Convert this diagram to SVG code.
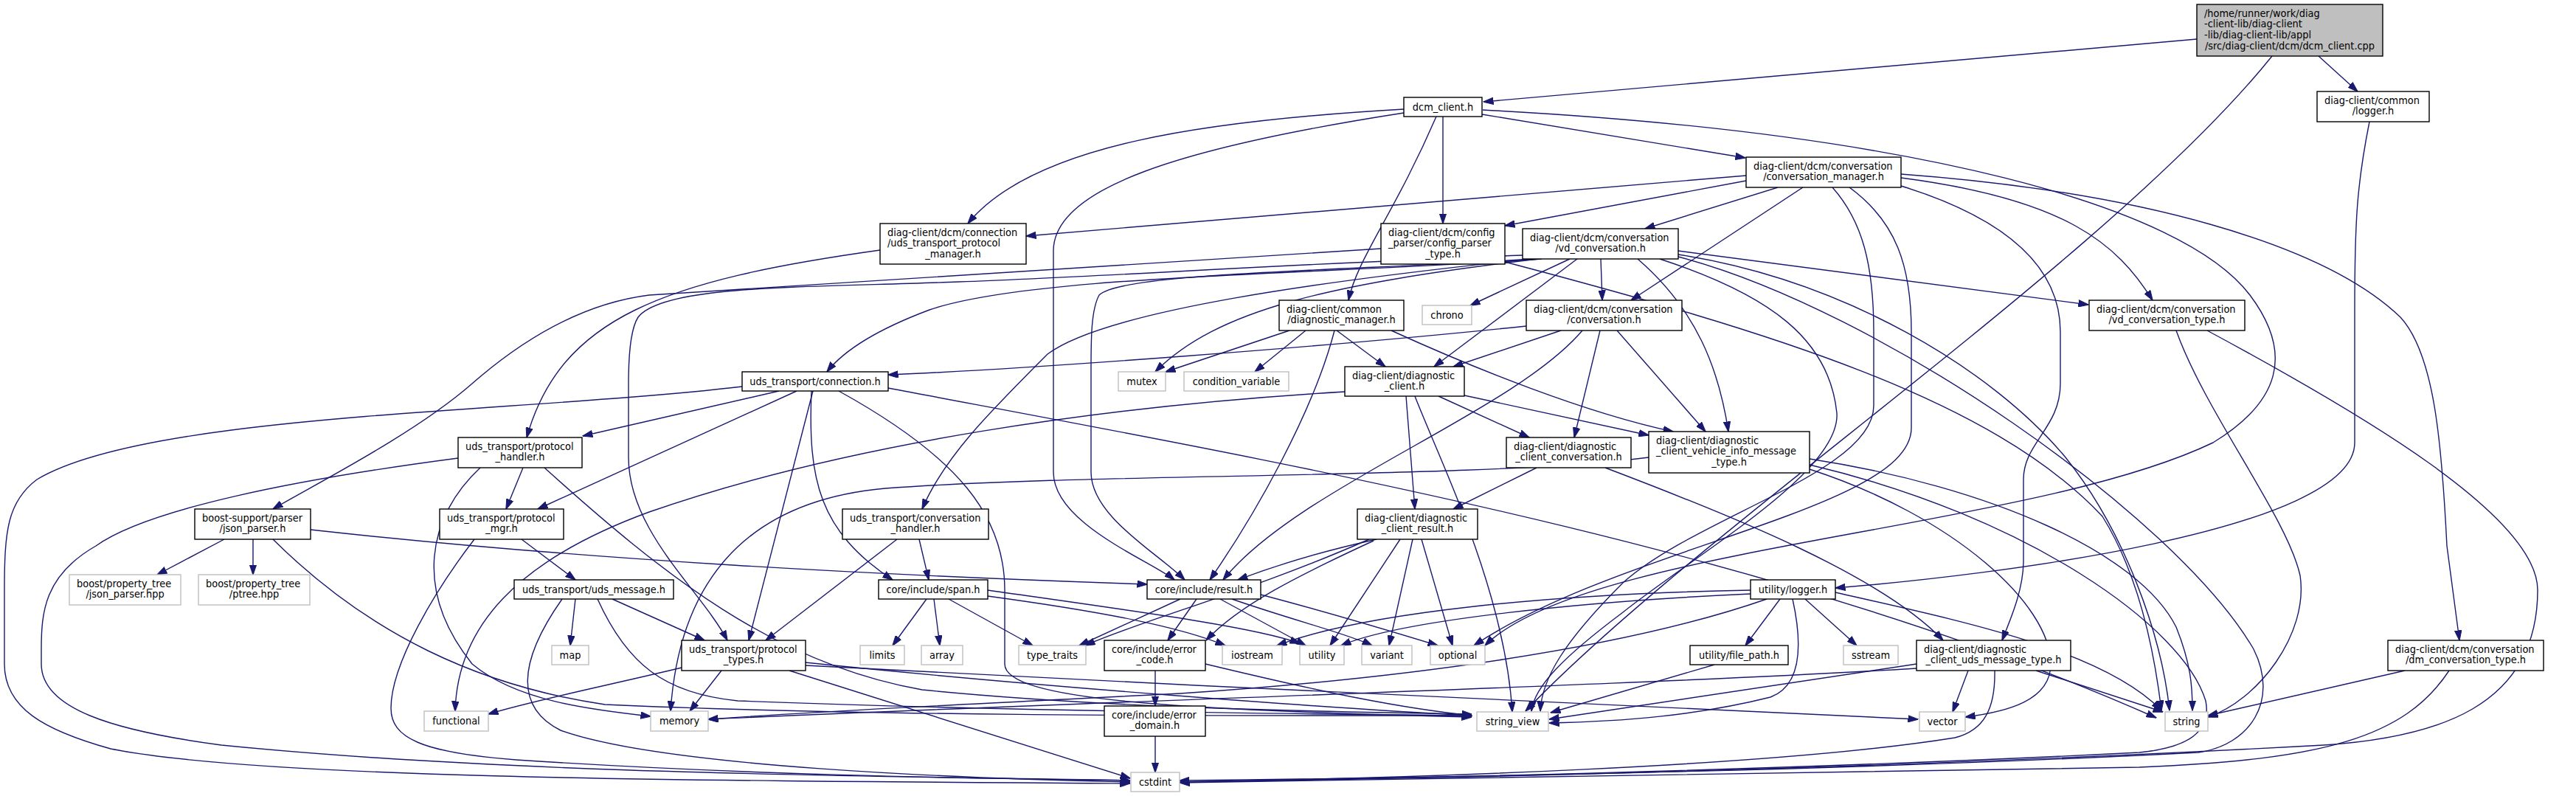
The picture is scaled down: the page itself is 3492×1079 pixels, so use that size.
<svg xmlns="http://www.w3.org/2000/svg" width="3492" height="1079" viewBox="0 0 3492 1079">
<style>
.b{fill:#fff;stroke:#000;stroke-width:1.4}
.x{fill:#fff;stroke:#bfbfbf;stroke-width:1.4}
.r{fill:#bfbfbf;stroke:#000;stroke-width:1.4}
text{font-family:'DejaVu Sans Condensed','DejaVu Sans',sans-serif;font-stretch:condensed;font-size:14.4px;fill:#000}
.m{text-anchor:middle}
#edges path{fill:none;stroke:#191970;stroke-width:1.4;marker-end:url(#ah)}
</style>
<defs>
<marker id="ah" markerUnits="userSpaceOnUse" viewBox="0 0 14 10" refX="13.5" refY="5" markerWidth="14" markerHeight="10" orient="auto"><path d="M0,0.3 L14,5 L0,9.7 z" fill="#191970" stroke="#191970" stroke-width="1"/></marker>
</defs>
<rect width="3492" height="1079" fill="#fff"/>
<g id="edges">
<path d="M2978,53 L2011,138"/>
<path d="M3143,76 L3196,124"/>
<path d="M3080,76 C2860,350 2300,720 2068,964"/>
<path d="M1903,148 C1640,163 1400,195 1312,303"/>
<path d="M1903,153 C1600,200 1428,255 1428,340 L1428,640 C1428,710 1560,760 1592,786"/>
<path d="M1956,158 L1956,303"/>
<path d="M1947,158 C1890,290 1840,350 1828,407"/>
<path d="M2009,155 L2366,214"/>
<path d="M2010,149 C2600,180 2960,280 3050,400 C3110,480 3090,545 3000,600 C2750,720 2150,740 2013,875"/>
<path d="M3212,165 C3195,250 3192,300 3192,420 L3192,600 C3192,720 2700,780 2488,797"/>
<path d="M2367,238 L1391,320"/>
<path d="M2367,245 L2040,306"/>
<path d="M2410,254 L2230,310"/>
<path d="M2444,254 L2211,407"/>
<path d="M2577,241 C2800,270 2870,330 2918,407"/>
<path d="M2577,236 C2900,260 3150,330 3254,430 C3300,480 3310,600 3317,740 L3334,868"/>
<path d="M2484,254 C2525,300 2540,360 2540,450 L2540,550 C2540,640 2300,700 2200,790 C2120,870 2090,920 2088,964"/>
<path d="M2507,254 C2570,300 2591,360 2591,450 L2591,580 C2591,690 2200,740 1998,875"/>
<path d="M2577,252 C2700,290 2793,350 2793,450 L2793,520 C2793,580 2743,600 2743,650 L2743,760 C2743,800 2725,840 2714,868"/>
<path d="M2128,351 L1993,414"/>
<path d="M2138,351 L1944,497"/>
<path d="M2170,351 L2172,407"/>
<path d="M2220,351 C2300,420 2330,500 2343,585"/>
<path d="M2275,340 L2831,413"/>
<path d="M2090,351 C1800,372 1400,372 1260,420 C1180,450 1140,480 1121,504"/>
<path d="M2085,351 C1800,385 1650,420 1566,504"/>
<path d="M2080,351 C1800,368 1520,370 1490,400 C1479,420 1479,460 1479,500 L1479,640 C1479,700 1570,750 1606,786"/>
<path d="M2075,351 C1800,380 1500,420 1420,480 C1340,560 1280,620 1250,690"/>
<path d="M2064,346 C1700,360 1500,375 1300,382 C1100,390 900,385 865,430 C852,450 852,500 852,520 L852,620 C852,720 950,800 986,868"/>
<path d="M2275,345 C2500,380 2700,500 2800,620 C2880,720 2930,860 2941,963"/>
<path d="M2250,351 C2400,400 2480,460 2490,560 C2495,640 2300,750 2200,830 C2120,890 2080,930 2076,964"/>
<path d="M2275,348 C2550,420 2950,700 3055,880 C3090,950 3050,1010 2980,1020 C2500,1045 1900,1055 1599,1058"/>
<path d="M2235,620 C2000,650 1500,640 1200,662 C1000,680 920,800 909,964"/>
<path d="M2453,622 C2700,660 2900,750 2950,850 C2970,900 2972,930 2972,963"/>
<path d="M2453,636 C2650,700 2780,820 2780,900 C2780,950 2720,965 2664,972"/>
<path d="M2453,630 C2750,700 2960,850 2990,950 C3000,1000 2950,1015 2900,1020 C2400,1045 1900,1055 1599,1060"/>
<path d="M2116,448 L1970,497"/>
<path d="M2069,442 C1800,470 1400,500 1204,508"/>
<path d="M2169,448 L2134,593"/>
<path d="M2192,448 L2312,585"/>
<path d="M2145,448 C2050,560 1760,660 1658,786"/>
<path d="M1812,448 L1878,497"/>
<path d="M1748,448 L1580,504"/>
<path d="M1770,448 L1701,504"/>
<path d="M1809,448 C1780,560 1700,700 1640,786"/>
<path d="M1886,448 C2000,500 2150,560 2268,585"/>
<path d="M1906,537 L1918,690"/>
<path d="M1918,537 C1950,620 2040,800 2050,965"/>
<path d="M1950,537 L2073,593"/>
<path d="M1985,536 L2235,590"/>
<path d="M1823,531 C1500,550 1150,600 880,694 C700,760 620,850 617,964"/>
<path d="M2083,634 L1970,690"/>
<path d="M2176,634 C2350,700 2550,780 2634,868"/>
<path d="M1866,731 C1780,750 1720,770 1678,786"/>
<path d="M1862,733 C1760,780 1680,820 1635,868"/>
<path d="M1856,731 C1700,800 1550,840 1471,875"/>
<path d="M1898,731 L1803,875"/>
<path d="M1915,731 L1883,875"/>
<path d="M1927,731 L1969,875"/>
<path d="M1872,337 L880,400 C800,410 720,450 640,520 C560,590 420,660 370,690"/>
<path d="M2040,355 C2400,450 2700,540 2850,700 C2900,780 2920,880 2930,963"/>
<path d="M1056,530 L790,591"/>
<path d="M1080,530 L729,690"/>
<path d="M1102,530 L1015,868"/>
<path d="M1100,530 C1095,650 1110,720 1210,786"/>
<path d="M1137,530 C1300,620 1362,700 1362,800 L1362,900 C1362,950 1600,962 1995,972"/>
<path d="M1006,524 C700,560 200,560 50,650 C10,680 6,720 6,800 L6,900 C6,960 60,990 150,1015 C350,1055 900,1058 1532,1062"/>
<path d="M1204,526 C1700,620 2400,740 2923,973"/>
<path d="M1193,339 C900,380 760,430 714,593"/>
<path d="M709,634 L686,690"/>
<path d="M651,634 C580,700 560,800 640,900 C700,950 800,962 882,971"/>
<path d="M621,621 C400,650 200,690 130,740 C60,780 56,830 56,880 L56,900 C56,960 150,990 300,1010 C700,1050 1200,1052 1532,1058"/>
<path d="M738,634 C900,780 1050,900 1250,935 C1500,960 1800,965 1995,968"/>
<path d="M304,731 L213,779"/>
<path d="M343,731 L343,779"/>
<path d="M421,718 C800,760 1200,780 1555,792"/>
<path d="M370,731 C500,860 650,930 820,955 C1200,972 1700,970 1995,970"/>
<path d="M707,731 L780,786"/>
<path d="M643,731 C590,800 530,900 530,960 C530,1000 570,1020 700,1030 C1000,1050 1300,1055 1532,1058"/>
<path d="M1246,731 L1259,786"/>
<path d="M1216,731 L1038,868"/>
<path d="M780,812 L773,875"/>
<path d="M830,812 L955,868"/>
<path d="M762,812 C700,900 700,960 760,990 C900,1040 1300,1055 1532,1060"/>
<path d="M810,812 C850,900 900,940 1000,950 C1400,965 1800,968 1995,970"/>
<path d="M1256,812 L1210,875"/>
<path d="M1266,812 L1274,875"/>
<path d="M1286,812 L1400,875"/>
<path d="M1339,808 C1500,830 1600,850 1661,875"/>
<path d="M1339,800 C1550,830 1700,850 1762,872"/>
<path d="M1600,812 L1463,875"/>
<path d="M1622,812 L1583,868"/>
<path d="M1654,812 L1770,875"/>
<path d="M1670,812 C1750,840 1830,860 1860,875"/>
<path d="M1709,806 C1800,830 1900,860 1949,875"/>
<path d="M2413,812 L2366,875"/>
<path d="M2447,812 L2517,875"/>
<path d="M2430,812 C2445,880 2440,930 2400,945 C2300,970 2200,978 2100,980"/>
<path d="M2373,800 C2100,805 1850,830 1731,875"/>
<path d="M2373,805 C2150,815 1900,840 1818,875"/>
<path d="M2395,812 C2200,880 1900,920 1600,940 C1300,955 1100,965 960,975"/>
<path d="M2488,803 C2650,840 2850,880 2930,963"/>
<path d="M2324,901 L2102,966"/>
<path d="M2668,909 L2647,965"/>
<path d="M2760,909 L2932,965"/>
<path d="M2704,909 C2705,960 2690,990 2650,1000 C2400,1040 1900,1055 1599,1060"/>
<path d="M2598,906 C2200,930 1500,950 960,975"/>
<path d="M2598,900 C2400,930 2200,960 2100,975"/>
<path d="M2950,448 C2990,560 3100,700 3118,780 C3130,860 3060,950 2993,972"/>
<path d="M2992,448 C3200,560 3440,700 3440,800 C3440,960 3300,1000 3150,1010 C2600,1040 2000,1055 1599,1060"/>
<path d="M3260,909 L2993,970"/>
<path d="M3320,909 C3260,1000 3150,1030 2900,1040 C2400,1052 1900,1058 1599,1061"/>
<path d="M978,909 L935,964"/>
<path d="M924,905 C820,930 720,950 662,968"/>
<path d="M1070,909 L1532,1055"/>
<path d="M1092,898 C1400,930 1800,960 1995,970"/>
<path d="M1092,902 C1600,930 2300,960 2600,975"/>
<path d="M1566,909 L1566,957"/>
<path d="M1634,900 C1800,940 1900,960 1995,970"/>
<path d="M1566,998 L1566,1047"/>
</g>
<g id="n1"><rect class="r" x="2978" y="6" width="252" height="70"/><text x="2988" y="22.5">/home/runner/work/diag</text><text x="2988" y="37.3">-client-lib/diag-client</text><text x="2988" y="52.1">-lib/diag-client-lib/appl</text><text class="m" x="3104" y="66.9">/src/diag-client/dcm/dcm_client.cpp</text></g>
<g id="n2"><rect class="b" x="1903" y="132" width="106" height="26"/><text class="m" x="1956" y="149.8">dcm_client.h</text></g>
<g id="n3"><rect class="b" x="3141" y="124" width="152" height="41"/><text x="3151" y="140.5">diag-client/common</text><text class="m" x="3217" y="155.3">/logger.h</text></g>
<g id="n4"><rect class="b" x="2367" y="213" width="210" height="41"/><text x="2377" y="229.5">diag-client/dcm/conversation</text><text class="m" x="2472" y="244.3">/conversation_manager.h</text></g>
<g id="n5"><rect class="b" x="1193" y="303" width="198" height="55"/><text x="1203" y="319.5">diag-client/dcm/connection</text><text x="1203" y="334.3">/uds_transport_protocol</text><text class="m" x="1292" y="349.1">_manager.h</text></g>
<g id="n6"><rect class="b" x="1872" y="303" width="168" height="55"/><text x="1882" y="319.5">diag-client/dcm/config</text><text x="1882" y="334.3">_parser/config_parser</text><text class="m" x="1956" y="349.1">_type.h</text></g>
<g id="n7"><rect class="b" x="2064" y="310" width="211" height="41"/><text x="2074" y="326.5">diag-client/dcm/conversation</text><text class="m" x="2169.5" y="341.3">/vd_conversation.h</text></g>
<g id="n8"><rect class="b" x="1734" y="407" width="169" height="41"/><text x="1744" y="423.5">diag-client/common</text><text class="m" x="1818.5" y="438.3">/diagnostic_manager.h</text></g>
<g id="n9"><rect class="x" x="1928" y="414" width="67" height="26"/><text class="m" x="1961.5" y="431.8">chrono</text></g>
<g id="n10"><rect class="b" x="2069" y="407" width="211" height="41"/><text x="2079" y="423.5">diag-client/dcm/conversation</text><text class="m" x="2174.5" y="438.3">/conversation.h</text></g>
<g id="n11"><rect class="b" x="2832" y="407" width="211" height="41"/><text x="2842" y="423.5">diag-client/dcm/conversation</text><text class="m" x="2937.5" y="438.3">/vd_conversation_type.h</text></g>
<g id="n12"><rect class="b" x="1823" y="497" width="162" height="40"/><text x="1833" y="513.5">diag-client/diagnostic</text><text class="m" x="1904" y="528.3">_client.h</text></g>
<g id="n13"><rect class="b" x="1006" y="504" width="198" height="26"/><text class="m" x="1105" y="521.8">uds_transport/connection.h</text></g>
<g id="n14"><rect class="x" x="1516" y="504" width="64" height="26"/><text class="m" x="1548" y="521.8">mutex</text></g>
<g id="n15"><rect class="x" x="1605" y="504" width="142" height="26"/><text class="m" x="1676" y="521.8">condition_variable</text></g>
<g id="n16"><rect class="b" x="621" y="593" width="168" height="41"/><text x="631" y="609.5">uds_transport/protocol</text><text class="m" x="705" y="624.3">_handler.h</text></g>
<g id="n17"><rect class="b" x="2042" y="593" width="169" height="41"/><text x="2052" y="609.5">diag-client/diagnostic</text><text class="m" x="2126.5" y="624.3">_client_conversation.h</text></g>
<g id="n18"><rect class="b" x="2235" y="585" width="218" height="56"/><text x="2245" y="601.5">diag-client/diagnostic</text><text x="2245" y="616.3">_client_vehicle_info_message</text><text class="m" x="2344" y="631.1">_type.h</text></g>
<g id="n19"><rect class="b" x="264" y="690" width="157" height="41"/><text x="274" y="706.5">boost-support/parser</text><text class="m" x="342.5" y="721.3">/json_parser.h</text></g>
<g id="n20"><rect class="b" x="596" y="690" width="168" height="41"/><text x="606" y="706.5">uds_transport/protocol</text><text class="m" x="680" y="721.3">_mgr.h</text></g>
<g id="n21"><rect class="b" x="1142" y="690" width="198" height="41"/><text x="1152" y="706.5">uds_transport/conversation</text><text class="m" x="1241" y="721.3">_handler.h</text></g>
<g id="n22"><rect class="b" x="1840" y="690" width="163" height="41"/><text x="1850" y="706.5">diag-client/diagnostic</text><text class="m" x="1921.5" y="721.3">_client_result.h</text></g>
<g id="n23"><rect class="x" x="94" y="779" width="151" height="41"/><text x="104" y="795.5">boost/property_tree</text><text class="m" x="169.5" y="810.3">/json_parser.hpp</text></g>
<g id="n24"><rect class="x" x="269" y="779" width="151" height="41"/><text x="279" y="795.5">boost/property_tree</text><text class="m" x="344.5" y="810.3">/ptree.hpp</text></g>
<g id="n25"><rect class="b" x="697" y="786" width="216" height="26"/><text class="m" x="805" y="803.8">uds_transport/uds_message.h</text></g>
<g id="n26"><rect class="b" x="1191" y="786" width="148" height="26"/><text class="m" x="1265" y="803.8">core/include/span.h</text></g>
<g id="n27"><rect class="b" x="1555" y="786" width="154" height="26"/><text class="m" x="1632" y="803.8">core/include/result.h</text></g>
<g id="n28"><rect class="b" x="2373" y="786" width="115" height="26"/><text class="m" x="2430.5" y="803.8">utility/logger.h</text></g>
<g id="n29"><rect class="x" x="748" y="875" width="50" height="26"/><text class="m" x="773" y="892.8">map</text></g>
<g id="n30"><rect class="b" x="924" y="868" width="168" height="41"/><text x="934" y="884.5">uds_transport/protocol</text><text class="m" x="1008" y="899.3">_types.h</text></g>
<g id="n31"><rect class="x" x="1166" y="875" width="60" height="26"/><text class="m" x="1196" y="892.8">limits</text></g>
<g id="n32"><rect class="x" x="1249" y="875" width="56" height="26"/><text class="m" x="1277" y="892.8">array</text></g>
<g id="n33"><rect class="x" x="1381" y="875" width="91" height="26"/><text class="m" x="1426.5" y="892.8">type_traits</text></g>
<g id="n34"><rect class="b" x="1497" y="868" width="137" height="41"/><text x="1507" y="884.5">core/include/error</text><text class="m" x="1565.5" y="899.3">_code.h</text></g>
<g id="n35"><rect class="x" x="1657" y="875" width="81" height="26"/><text class="m" x="1697.5" y="892.8">iostream</text></g>
<g id="n36"><rect class="x" x="1762" y="875" width="60" height="26"/><text class="m" x="1792" y="892.8">utility</text></g>
<g id="n37"><rect class="x" x="1846" y="875" width="68" height="26"/><text class="m" x="1880" y="892.8">variant</text></g>
<g id="n38"><rect class="x" x="1939" y="875" width="74" height="26"/><text class="m" x="1976" y="892.8">optional</text></g>
<g id="n39"><rect class="b" x="2291" y="875" width="133" height="26"/><text class="m" x="2357.5" y="892.8">utility/file_path.h</text></g>
<g id="n40"><rect class="x" x="2499" y="875" width="74" height="26"/><text class="m" x="2536" y="892.8">sstream</text></g>
<g id="n41"><rect class="b" x="2598" y="868" width="209" height="41"/><text x="2608" y="884.5">diag-client/diagnostic</text><text class="m" x="2702.5" y="899.3">_client_uds_message_type.h</text></g>
<g id="n42"><rect class="b" x="3237" y="868" width="211" height="41"/><text x="3247" y="884.5">diag-client/dcm/conversation</text><text class="m" x="3342.5" y="899.3">/dm_conversation_type.h</text></g>
<g id="n43"><rect class="x" x="575" y="964" width="87" height="27"/><text class="m" x="618.5" y="982">functional</text></g>
<g id="n44"><rect class="x" x="882" y="964" width="78" height="27"/><text class="m" x="921" y="982">memory</text></g>
<g id="n45"><rect class="b" x="1497" y="957" width="137" height="41"/><text x="1507" y="973.5">core/include/error</text><text class="m" x="1565.5" y="988.3">_domain.h</text></g>
<g id="n46"><rect class="x" x="2002" y="965" width="97" height="26"/><text class="m" x="2050.5" y="982.8">string_view</text></g>
<g id="n47"><rect class="x" x="2602" y="965" width="62" height="26"/><text class="m" x="2633" y="982.8">vector</text></g>
<g id="n48"><rect class="x" x="2935" y="965" width="58" height="26"/><text class="m" x="2964" y="982.8">string</text></g>
<g id="n49"><rect class="x" x="1533" y="1047" width="66" height="26"/><text class="m" x="1566" y="1064.8">cstdint</text></g>
</svg>
